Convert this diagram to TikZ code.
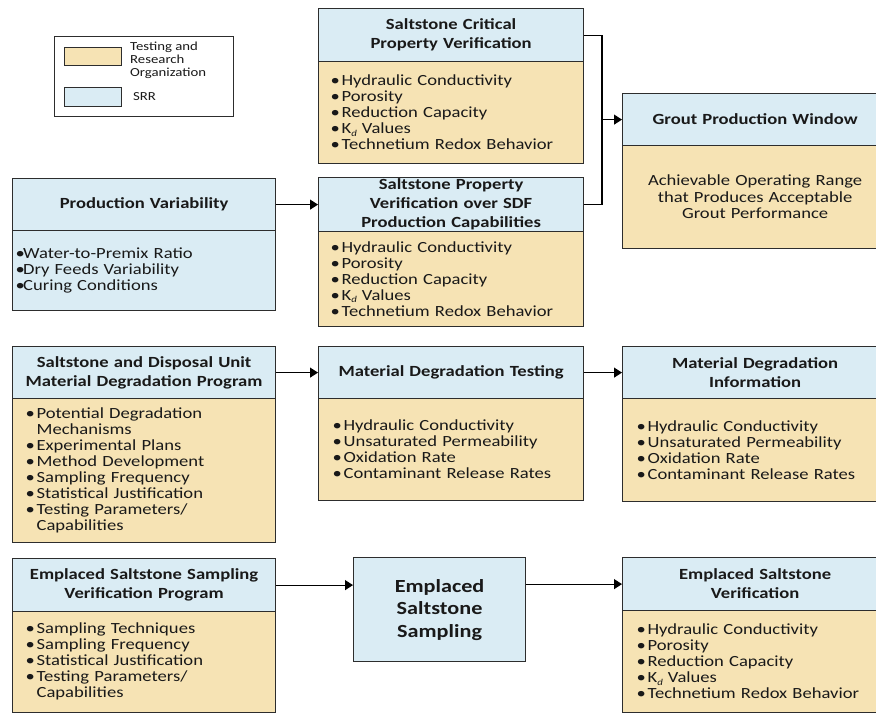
\documentclass[tikz,border=0pt]{standalone}
\usepackage{fontspec}
\setmainfont{Carlito}[FakeStretch=1.2]
\usetikzlibrary{arrows.meta}
\definecolor{hb}{RGB}{218,236,244}
\definecolor{tn}{RGB}{246,227,180}
\definecolor{bc}{RGB}{45,45,45}
\definecolor{tx}{RGB}{25,25,25}
\newcommand\bu{\makebox[11pt][l]{•}}
\newcommand\bh{\hspace*{11pt}}
\newcommand\kd{K\raisebox{-2.5pt}{\fontsize{9}{9}\selectfont\itshape d} Values}
\tikzset{
  box/.style={draw=bc, line width=1.2pt, anchor=north west, inner sep=0pt, text=tx},
  hdr/.style={box, fill=hb, align=center, font=\fontsize{15.5}{19}\selectfont\bfseries, text width=250pt},
  bod/.style={box, fill=tn, align=left, font=\fontsize{15.5}{16}\selectfont},
  arr/.style={draw=black, line width=1.1pt, -{Triangle[length=8pt,width=10pt]}},
  ln/.style={draw=black, line width=1.1pt},
  swatch/.style={draw=bc, line width=1pt, anchor=north west, inner sep=0pt, minimum width=57pt},
  legtext/.style={anchor=west, align=left, inner sep=0pt, text=tx, font=\fontsize{12.3}{13}\selectfont}
}
\begin{document}
\begin{tikzpicture}[x=1pt,y=-1pt]
\useasboundingbox (0,0) rectangle (876,713);
\fill[white] (0,0) rectangle (876,713);
\clip (0,0) rectangle (876,713);

% legend
\node[draw=bc, line width=1pt, anchor=north west, inner sep=0pt, minimum width=179pt, minimum height=80pt] (leg) at (54,36) {};
\node[swatch, fill=tn, minimum height=18pt] (lt) at (64,47) {};
\node[swatch, fill=hb, minimum height=19pt] (lb) at (64,87) {};
\node[legtext] (ltt) at (130,60) {Testing and\\Research\\Organization};
\node[legtext] (lbt) at (133,97) {SRR};

% top box
\node[hdr, minimum width=265pt, minimum height=53pt] (h1) at (318,8) {Saltstone Critical\\Property Verification};
\node[bod, minimum width=265pt, minimum height=102pt, inner xsep=12pt, text width=241pt] (b1) at (318,61)
  {\bu Hydraulic Conductivity\\\bu Porosity\\\bu Reduction Capacity\\\bu \kd\\\bu Technetium Redox Behavior};

% second box
\node[hdr, minimum width=265pt, minimum height=54pt] (h2) at (318,177) {Saltstone Property\\Verification over SDF\\Production Capabilities};
\node[bod, minimum width=265pt, minimum height=95pt, inner xsep=12pt, text width=241pt] (b2) at (318,231)
  {\bu Hydraulic Conductivity\\\bu Porosity\\\bu Reduction Capacity\\\bu \kd\\\bu Technetium Redox Behavior};

% production variability
\node[hdr, minimum width=263pt, minimum height=52pt] (pv) at (12,178) {Production Variability};
\node[bod, fill=hb, minimum width=263pt, minimum height=80pt, inner xsep=3pt, text width=257pt] (pvb) at (12,230)
  {\makebox[7.5pt][l]{•}Water-to-Premix Ratio\\\makebox[7.5pt][l]{•}Dry Feeds Variability\\\makebox[7.5pt][l]{•}Curing Conditions};

% grout production window
\node[hdr, minimum width=265pt, minimum height=52pt] (gh) at (622,93) {Grout Production Window};
\node[bod, align=center, minimum width=265pt, minimum height=103pt, text width=250pt, font=\fontsize{15.5}{16.5}\selectfont] (gb) at (622,145)
  {Achievable Operating Range\\that Produces Acceptable\\Grout Performance};

% row 3
\node[hdr, minimum width=263pt, minimum height=52pt] (sdh) at (12,346) {Saltstone and Disposal Unit\\Material Degradation Program};
\node[bod, minimum width=263pt, minimum height=144pt, inner xsep=13pt, text width=237pt] (sdb) at (12,398)
  {\bu Potential Degradation\\\bh Mechanisms\\\bu Experimental Plans\\\bu Method Development\\\bu Sampling Frequency\\\bu Statistical Justification\\\bu Testing Parameters/\\\bh Capabilities};

\node[hdr, minimum width=265pt, minimum height=52pt] (mth) at (318,346) {Material Degradation Testing};
\node[bod, minimum width=265pt, minimum height=102pt, inner xsep=14pt, text width=237pt] (mtb) at (318,398)
  {\bu Hydraulic Conductivity\\\bu Unsaturated Permeability\\\bu Oxidation Rate\\\bu Contaminant Release Rates};

\node[hdr, minimum width=265pt, minimum height=52pt] (mih) at (622,346) {Material Degradation\\Information};
\node[bod, minimum width=265pt, minimum height=103pt, inner xsep=14pt, text width=237pt] (mib) at (622,398)
  {\bu Hydraulic Conductivity\\\bu Unsaturated Permeability\\\bu Oxidation Rate\\\bu Contaminant Release Rates};

% row 4
\node[hdr, minimum width=263pt, minimum height=53pt] (eph) at (12,558) {Emplaced Saltstone Sampling\\Verification Program};
\node[bod, minimum width=263pt, minimum height=100.5pt, inner xsep=13pt, text width=237pt] (epb) at (12,611)
  {\bu Sampling Techniques\\\bu Sampling Frequency\\\bu Statistical Justification\\\bu Testing Parameters/\\\bh Capabilities};

\node[box, fill=hb, minimum width=172pt, minimum height=104pt, align=center, font=\fontsize{18.5}{22.5}\selectfont\bfseries] (samp) at (353,557) {Emplaced\\Saltstone\\Sampling};

\node[hdr, minimum width=265pt, minimum height=53pt] (evh) at (622,557) {Emplaced Saltstone\\Verification};
\node[bod, minimum width=265pt, minimum height=101.5pt, inner xsep=14pt, text width=237pt] (evb) at (622,610)
  {\bu Hydraulic Conductivity\\\bu Porosity\\\bu Reduction Capacity\\\bu \kd\\\bu Technetium Redox Behavior};

% connectors
\coordinate (jx) at (602,120);
\draw[ln] (h1.east) -- (h1.east -| jx) -- (h2.east -| jx) -- (h2.east);
\draw[arr] (gh.west -| jx) -- (gh.west);
\draw[arr] (pv.east) -- (h2.west);
\draw[arr] (sdh.east) -- (mth.west);
\draw[arr] (mth.east) -- (mih.west);
\draw[arr] (eph.east) -- (eph.east -| samp.west);
\draw[arr] (samp.east |- evh.west) -- (evh.west);
\end{tikzpicture}
\end{document}
